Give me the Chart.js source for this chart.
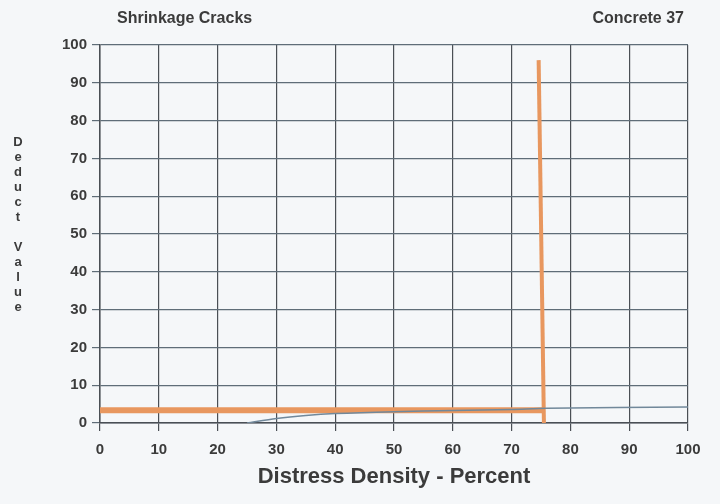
<!DOCTYPE html>
<html>
<head>
<meta charset="utf-8">
<script src="https://cdn.jsdelivr.net/npm/chart.js@4"></script>
<style>
  html, body { margin: 0; padding: 0; background: #f5f7f9; }
  #wrap { width: 720px; height: 504px; }
</style>
</head>
<body>
<div id="wrap"><canvas id="chart" width="720" height="504"></canvas></div>
<script>
const TITLE_LEFT  = 'Shrinkage Cracks';
const TITLE_RIGHT = 'Concrete 37';
const X_TITLE     = 'Distress Density - Percent';
const Y_TITLE     = 'Deduct Value';

const X_TICKS = [0, 10, 20, 30, 40, 50, 60, 70, 80, 90, 100];
const Y_TICKS = [0, 10, 20, 30, 40, 50, 60, 70, 80, 90, 100];

// orange curve (horizontal run, then vertical drop)
const orangeH_x = [0, 75.6];
const orangeH_y = [3.4, 3.4];
const orangeV_x = [74.6, 75.5];
const orangeV_y = [96, -0.5];

// thin grey curve
const thin_x = [25, 30, 35, 40, 50, 60, 70, 76, 100];
const thin_y = [0, 1.2, 2.0, 2.5, 3.0, 3.3, 3.6, 3.9, 4.2];

const TEXT = '#3b3b3b';
const FONT = "'Liberation Sans', Arial, sans-serif";

const toPts = (xs, ys) => xs.map((x, i) => ({ x, y: ys[i] }));

const textPlugin = {
    id: 'texts',
    afterDraw(chart) {
        const { ctx } = chart;
        ctx.save();
        ctx.fillStyle = TEXT;
        ctx.font = `bold 16px ${FONT}`;
        ctx.textBaseline = 'middle';
        ctx.textAlign = 'left';
        ctx.fillText(TITLE_LEFT, 117, 19);
        ctx.textAlign = 'right';
        ctx.fillText(TITLE_RIGHT, 684, 19);

        // stacked y title
        ctx.textAlign = 'center';
        ctx.font = `bold 13px ${FONT}`;
        let y = 142;
        Y_TITLE.split('').forEach(ch => {
            if (ch !== ' ') ctx.fillText(ch, 18, y);
            y += 15;
        });
        ctx.restore();
    }
};

new Chart(document.getElementById('chart').getContext('2d'), {
    type: 'scatter',
    data: {
        datasets: [
            {
                data: toPts(thin_x, thin_y),
                showLine: true,
                borderColor: '#71889a',
                borderWidth: 1.5,
                pointRadius: 0,
                tension: 0.3,
            },
            {
                data: toPts(orangeH_x, orangeH_y),
                showLine: true,
                borderColor: '#e8975f',
                borderWidth: 6,
                pointRadius: 0,
            },
            {
                data: toPts(orangeV_x, orangeV_y),
                showLine: true,
                borderColor: '#e8975f',
                borderWidth: 4,
                pointRadius: 0,
            },
        ],
    },
    options: {
        responsive: false,
        animation: false,
        layout: { padding: { top: 45, right: 32, left: 0, bottom: 14 } },
        plugins: {
            legend: { display: false },
            tooltip: { enabled: false },
        },
        scales: {
            x: {
                type: 'linear',
                min: 0, max: 100,
                afterBuildTicks: s => { s.ticks = X_TICKS.map(v => ({ value: v })); },
                afterFit: s => { s.height = 67; },
                grid: { color: '#4a4f55', lineWidth: 1.2, tickLength: 8 },
                border: { color: '#4a4f55', width: 1.5 },
                ticks: { color: TEXT, font: { family: FONT, size: 15, weight: 'bold' }, padding: 10, maxRotation: 0 },
                title: {
                    display: true, text: X_TITLE, color: TEXT,
                    font: { family: FONT, size: 22, weight: 'bold' }, padding: { top: 0, bottom: 0 },
                },
            },
            y: {
                type: 'linear',
                min: 0, max: 100,
                afterBuildTicks: s => { s.ticks = Y_TICKS.map(v => ({ value: v })); },
                afterFit: s => { s.width = 100; },
                grid: { color: '#5f6d78', lineWidth: 1.2, tickLength: 8 },
                border: { color: '#4a4f55', width: 1.5 },
                ticks: { color: TEXT, font: { family: FONT, size: 15, weight: 'bold' }, padding: 5 },
            },
        },
    },
    plugins: [textPlugin],
});
</script>
</body>
</html>
